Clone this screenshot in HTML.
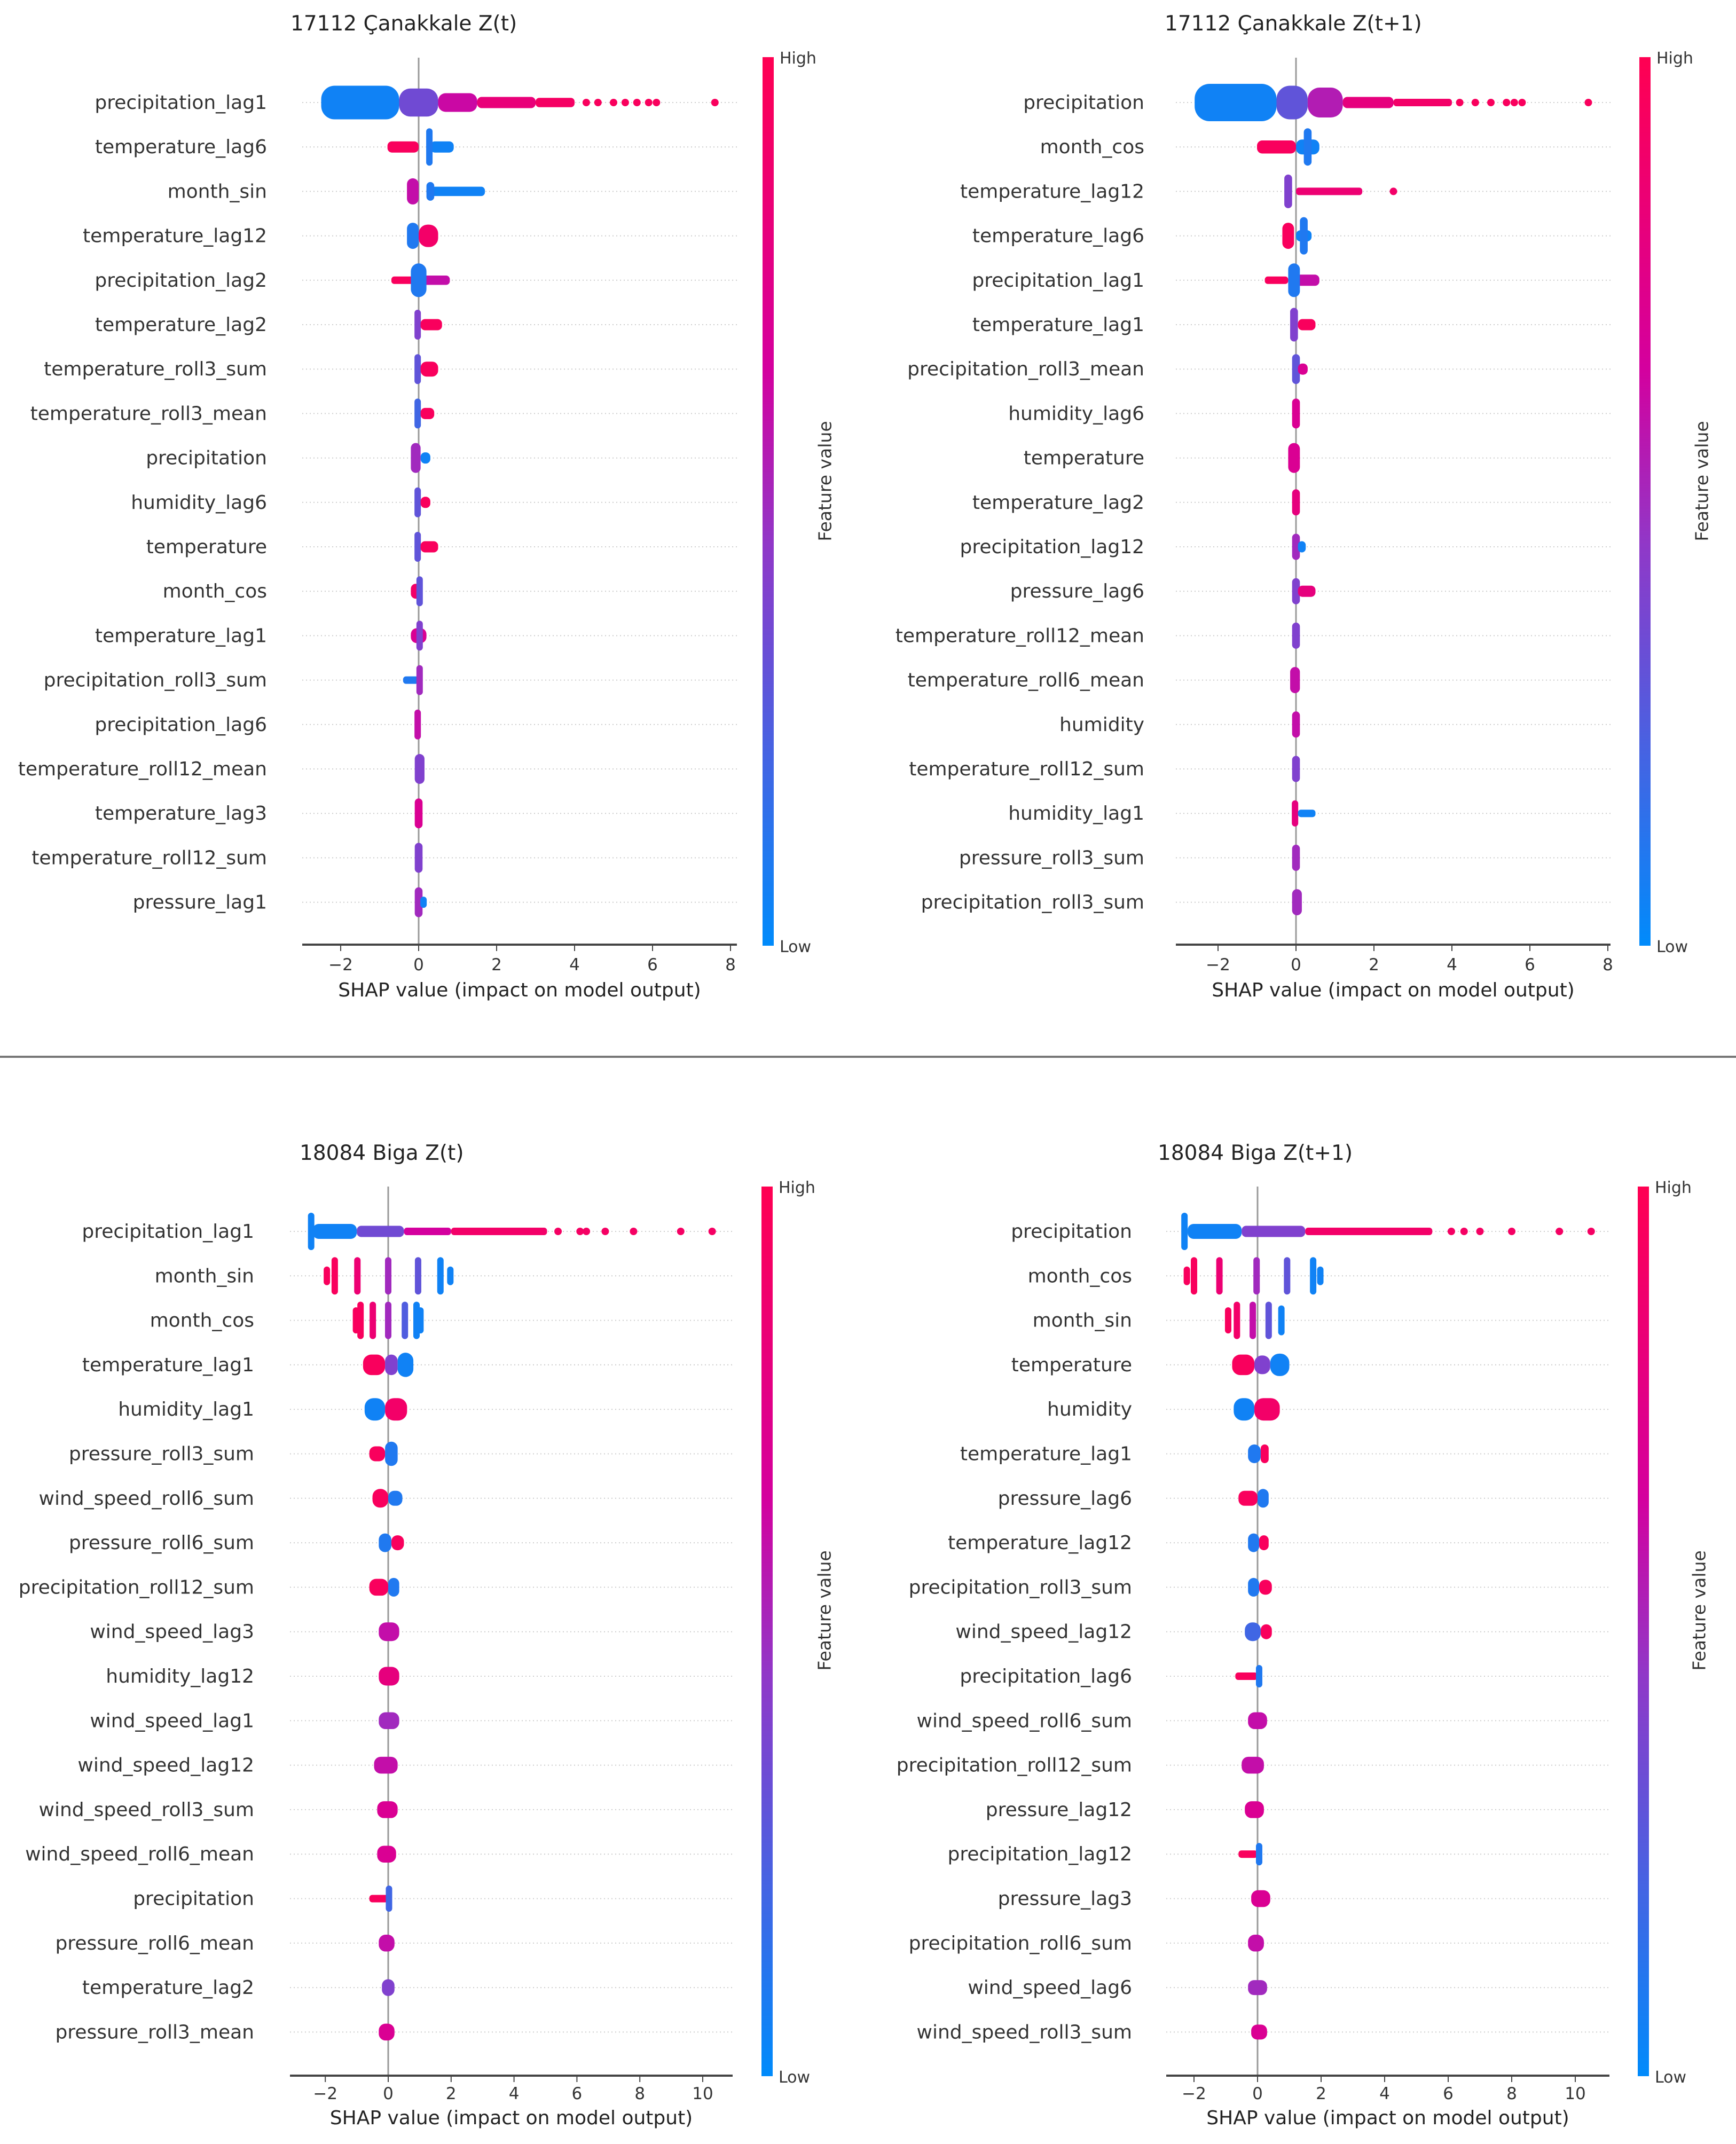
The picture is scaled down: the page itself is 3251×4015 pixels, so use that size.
<!DOCTYPE html>
<html><head><meta charset="utf-8">
<style>
html,body{margin:0;padding:0;background:#fff;}
svg{display:block;}
text{font-family:"DejaVu Sans","Liberation Sans",sans-serif;fill:#333;}
</style></head>
<body>
<svg id="chart" width="3251" height="4015" viewBox="0 0 3251 4015" xmlns="http://www.w3.org/2000/svg">
<defs>
<linearGradient id="cbgrad" x1="0" y1="1" x2="0" y2="0">
<stop offset="0" stop-color="#008bfb"/><stop offset="0.45" stop-color="#9038c8"/><stop offset="0.65" stop-color="#d4009e"/><stop offset="1" stop-color="#ff0052"/>
</linearGradient>
</defs>
<line x1="0" y1="1979" x2="3251" y2="1979" stroke="#777" stroke-width="4"/>
</svg>
<script>
// ---------- data ----------
// segments: [shapStart, shapEnd, relativeHeight, featureValueColor(0 low..1 high)]
// points: [shap, featureValueColor]
const titles = ["17112 Çanakkale Z(t)", "17112 Çanakkale Z(t+1)", "18084 Biga Z(t)", "18084 Biga Z(t+1)"];
const ticksTop = [-2, 0, 2, 4, 6, 8];
const ticksBottom = [-2, 0, 2, 4, 6, 8, 10];

const featuresTL = ["precipitation_lag1","temperature_lag6","month_sin","temperature_lag12","precipitation_lag2","temperature_lag2","temperature_roll3_sum","temperature_roll3_mean","precipitation","humidity_lag6","temperature","month_cos","temperature_lag1","precipitation_roll3_sum","precipitation_lag6","temperature_roll12_mean","temperature_lag3","temperature_roll12_sum","pressure_lag1"];
const segsTL = [
 [[-2.5,-0.5,0.9,0.05],[-0.5,0.5,0.75,0.35],[0.5,1.5,0.5,0.62],[1.5,3,0.3,0.82],[3,4,0.25,0.92]],
 [[-0.8,0,0.3,0.95],[0.3,0.9,0.3,0.05],[0.2,0.35,1.0,0.1]],
 [[-0.3,0,0.7,0.6],[0.2,1.7,0.25,0.05],[0.2,0.4,0.5,0.1]],
 [[-0.3,0,0.7,0.1],[0,0.5,0.6,0.9]],
 [[-0.7,-0.1,0.2,0.95],[0.1,0.8,0.25,0.6],[-0.2,0.2,0.9,0.1]],
 [[-0.1,0.05,0.8,0.4],[0.05,0.6,0.3,0.95]],
 [[-0.1,0.05,0.8,0.3],[0.05,0.5,0.4,0.95]],
 [[-0.1,0.05,0.8,0.2],[0.05,0.4,0.3,0.95]],
 [[-0.2,0.05,0.8,0.5],[0.05,0.3,0.3,0.05]],
 [[-0.1,0.05,0.8,0.3],[0.05,0.3,0.3,0.95]],
 [[-0.1,0.05,0.8,0.3],[0.05,0.5,0.3,0.95]],
 [[-0.2,0.05,0.4,0.9],[-0.05,0.1,0.8,0.3]],
 [[-0.2,0.2,0.4,0.7],[-0.05,0.1,0.8,0.4]],
 [[-0.4,0,0.2,0.1],[-0.05,0.1,0.8,0.5]],
 [[-0.1,0.05,0.8,0.6]],
 [[-0.1,0.15,0.8,0.4]],
 [[-0.1,0.1,0.8,0.7]],
 [[-0.1,0.1,0.8,0.4]],
 [[-0.1,0.1,0.8,0.5],[0.05,0.2,0.3,0.05]]
];
const ptsTL = [[[4.3,0.95],[4.6,0.95],[5.0,0.95],[5.3,0.95],[5.6,0.95],[5.9,0.95],[6.1,0.95],[7.6,0.95]]];

const featuresTR = ["precipitation","month_cos","temperature_lag12","temperature_lag6","precipitation_lag1","temperature_lag1","precipitation_roll3_mean","humidity_lag6","temperature","temperature_lag2","precipitation_lag12","pressure_lag6","temperature_roll12_mean","temperature_roll6_mean","humidity","temperature_roll12_sum","humidity_lag1","pressure_roll3_sum","precipitation_roll3_sum"];
const segsTR = [
 [[-2.6,-0.5,1.0,0.05],[-0.5,0.3,0.9,0.3],[0.3,1.2,0.8,0.55],[1.2,2.5,0.3,0.8],[2.5,4,0.2,0.9]],
 [[-1,0,0.35,0.95],[0,0.6,0.4,0.05],[0.2,0.4,1.0,0.1]],
 [[0,1.7,0.2,0.85],[-0.3,-0.1,0.9,0.4]],
 [[-0.35,-0.05,0.7,0.95],[0,0.4,0.3,0.05],[0.1,0.3,1.0,0.1]],
 [[-0.8,-0.2,0.15,0.95],[0,0.6,0.3,0.6],[-0.2,0.1,0.9,0.1]],
 [[-0.15,0.05,0.9,0.4],[0.05,0.5,0.3,0.95]],
 [[-0.1,0.1,0.8,0.3],[0.05,0.3,0.3,0.7]],
 [[-0.1,0.1,0.8,0.7]],
 [[-0.2,0.1,0.8,0.7]],
 [[-0.1,0.1,0.7,0.8]],
 [[-0.1,0.1,0.7,0.5],[0.05,0.25,0.3,0.05]],
 [[-0.1,0.1,0.7,0.4],[0.05,0.5,0.3,0.8]],
 [[-0.1,0.1,0.7,0.4]],
 [[-0.15,0.1,0.7,0.6]],
 [[-0.1,0.1,0.7,0.6]],
 [[-0.1,0.1,0.7,0.4]],
 [[-0.1,0.05,0.7,0.8],[0.05,0.5,0.2,0.05]],
 [[-0.1,0.1,0.7,0.5]],
 [[-0.1,0.15,0.7,0.5]]
];
const ptsTR = [[[4.2,0.95],[4.6,0.95],[5.0,0.95],[5.4,0.95],[5.6,0.95],[5.8,0.95],[7.5,0.95]],[],[[2.5,0.9]]];

const featuresBL = ["precipitation_lag1","month_sin","month_cos","temperature_lag1","humidity_lag1","pressure_roll3_sum","wind_speed_roll6_sum","pressure_roll6_sum","precipitation_roll12_sum","wind_speed_lag3","humidity_lag12","wind_speed_lag1","wind_speed_lag12","wind_speed_roll3_sum","wind_speed_roll6_mean","precipitation","pressure_roll6_mean","temperature_lag2","pressure_roll3_mean"];
const segsBL = [
 [[-2.5,-2.4,1.0,0.05],[-2.4,-1,0.4,0.05],[-1,0.5,0.3,0.35],[0.5,2,0.2,0.65],[2,5.05,0.15,0.9]],
 [[-2.0,-1.9,0.5,0.95],[-1.75,-1.65,1,0.95],[-1.03,-0.93,1,0.85],[-0.05,0.05,1,0.5],[0.9,1.0,1,0.3],[1.61,1.71,1,0.05],[1.9,2.05,0.5,0.05]],
 [[-1.1,-0.95,0.7,0.95],[-0.93,-0.83,1,0.95],[-0.54,-0.44,1,0.85],[-0.05,0.05,1,0.5],[0.48,0.58,1,0.25],[0.85,0.95,1,0.05],[0.95,1.1,0.7,0.05]],
 [[-0.8,-0.1,0.55,0.95],[-0.1,0.3,0.55,0.4],[0.3,0.8,0.65,0.05]],
 [[-0.75,-0.1,0.6,0.05],[-0.1,0.6,0.6,0.9]],
 [[-0.6,-0.1,0.4,0.95],[-0.1,0.3,0.65,0.1]],
 [[-0.5,0,0.5,0.95],[0,0.45,0.4,0.1]],
 [[-0.3,0.1,0.5,0.1],[0.1,0.5,0.4,0.95]],
 [[-0.6,0,0.45,0.95],[0,0.35,0.5,0.1]],
 [[-0.3,0.35,0.5,0.6]],
 [[-0.3,0.35,0.5,0.8]],
 [[-0.3,0.35,0.45,0.5]],
 [[-0.45,0.3,0.45,0.6]],
 [[-0.35,0.3,0.45,0.7]],
 [[-0.35,0.25,0.45,0.7]],
 [[-0.6,0,0.2,0.95],[-0.05,0.1,0.7,0.2]],
 [[-0.3,0.2,0.45,0.6]],
 [[-0.2,0.2,0.45,0.4]],
 [[-0.3,0.2,0.45,0.7]]
];
const ptsBL = [[[5.4,0.92],[6.1,0.92],[6.3,0.92],[6.9,0.92],[7.8,0.92],[9.3,0.92],[10.3,0.92]]];

const featuresBR = ["precipitation","month_cos","month_sin","temperature","humidity","temperature_lag1","pressure_lag6","temperature_lag12","precipitation_roll3_sum","wind_speed_lag12","precipitation_lag6","wind_speed_roll6_sum","precipitation_roll12_sum","pressure_lag12","precipitation_lag12","pressure_lag3","precipitation_roll6_sum","wind_speed_lag6","wind_speed_roll3_sum"];
const segsBR = [
 [[-2.4,-2.2,1.0,0.05],[-2.2,-0.5,0.4,0.05],[-0.5,1.5,0.3,0.4],[1.5,5.5,0.15,0.9]],
 [[-2.3,-2.15,0.5,0.95],[-2.05,-1.95,1,0.95],[-1.25,-1.15,1,0.85],[-0.08,0.02,1,0.5],[0.88,0.98,1,0.3],[1.7,1.8,1,0.05],[1.9,2.05,0.5,0.05]],
 [[-1.0,-0.85,0.7,0.95],[-0.7,-0.6,1,0.9],[-0.2,-0.1,1,0.6],[0.3,0.4,1,0.3],[0.65,0.85,0.8,0.05]],
 [[-0.8,-0.1,0.55,0.95],[-0.1,0.4,0.5,0.4],[0.4,1.0,0.6,0.05]],
 [[-0.75,-0.1,0.6,0.05],[-0.1,0.7,0.6,0.9]],
 [[-0.3,0.1,0.5,0.1],[0.1,0.35,0.5,0.95]],
 [[-0.6,0,0.4,0.95],[0,0.35,0.5,0.1]],
 [[-0.3,0.05,0.5,0.1],[0.05,0.35,0.4,0.95]],
 [[-0.3,0.05,0.5,0.1],[0.05,0.45,0.4,0.95]],
 [[-0.4,0.1,0.5,0.2],[0.1,0.45,0.4,0.95]],
 [[-0.7,0,0.2,0.95],[-0.05,0.15,0.6,0.1]],
 [[-0.3,0.3,0.45,0.6]],
 [[-0.5,0.2,0.45,0.6]],
 [[-0.4,0.2,0.45,0.7]],
 [[-0.6,0,0.2,0.95],[-0.05,0.15,0.6,0.1]],
 [[-0.2,0.4,0.45,0.7]],
 [[-0.3,0.2,0.45,0.6]],
 [[-0.3,0.3,0.4,0.5]],
 [[-0.2,0.3,0.4,0.7]]
];
const ptsBR = [[[6.1,0.92],[6.5,0.92],[7.0,0.92],[8.0,0.92],[9.5,0.92],[10.5,0.92]]];

// ---------- layout ----------
const panels = [
 {id:"tl",title:titles[0],feat:featuresTL,segs:segsTL,pts:ptsTL,ticks:ticksTop,zero:784,unit:73,axL:566,axR:1380,row0:192,step:83.2,top:108,axY:1769,lblR:500,cbX:1428,cbTop:107,cbBot:1771,titleX:544,titleY:43,fvX:1545,fvY:901,tickY:1806,xlY:1853},
 {id:"tr",title:titles[1],feat:featuresTR,segs:segsTR,pts:ptsTR,ticks:ticksTop,zero:2427,unit:73,axL:2202,axR:3016,row0:192,step:83.2,top:108,axY:1769,lblR:2143,cbX:3070,cbTop:107,cbBot:1771,titleX:2181,titleY:43,fvX:3187,fvY:901,tickY:1806,xlY:1853},
 {id:"bl",title:titles[2],feat:featuresBL,segs:segsBL,pts:ptsBL,ticks:ticksBottom,zero:727,unit:58.9,axL:543,axR:1372,row0:2306,step:83.3,top:2222,axY:3887,lblR:476,cbX:1426,cbTop:2222,cbBot:3888,titleX:561,titleY:2158,fvX:1544,fvY:3016,tickY:3920,xlY:3965},
 {id:"br",title:titles[3],feat:featuresBR,segs:segsBR,pts:ptsBR,ticks:ticksBottom,zero:2355,unit:59.5,axL:2184,axR:3014,row0:2306,step:83.3,top:2222,axY:3887,lblR:2120,cbX:3067,cbTop:2222,cbBot:3888,titleX:2168,titleY:2158,fvX:3182,fvY:3016,tickY:3920,xlY:3965}
];

const NS="http://www.w3.org/2000/svg";
const svg=document.getElementById('chart');
function mk(tag,attrs,parent,txt){const e=document.createElementNS(NS,tag);for(const k in attrs)e.setAttribute(k,attrs[k]);if(txt!==undefined)e.textContent=txt;(parent||svg).appendChild(e);return e;}
function lerp(a,b,t){return a+(b-a)*t;}
const stops=[[0,[0,139,251]],[0.45,[144,56,200]],[0.65,[212,0,158]],[1,[255,0,82]]];
function cmap(v){for(let i=1;i<stops.length;i++){if(v<=stops[i][0]){const a=stops[i-1],b=stops[i];const t=(v-a[0])/(b[0]-a[0]);return 'rgb('+a[1].map((c,j)=>Math.round(lerp(c,b[1][j],t))).join(',')+')';}}return 'rgb(255,0,82)';}

panels.forEach(p=>{
 const xs=v=>p.zero+v*p.unit;
 const ys=i=>p.row0+i*p.step;
 const g=mk('g',{});
 
 
 const t=mk('text',{x:p.titleX,y:p.titleY+14,'font-size':39,style:'fill:#222'},g,p.title);
 
 
 p.feat.forEach((f,i)=>{
  const gl=mk('line',{x1:p.axL,x2:p.axR,y1:ys(i),y2:ys(i),stroke:'#ccc','stroke-width':2,'stroke-dasharray':'2 5'},g);
  
  
  const l=mk('text',{x:p.lblR,y:ys(i)+12,'text-anchor':'end','font-size':36},g,f);
  
  
 });
 const zl=mk('line',{x1:xs(0),x2:xs(0),y1:p.top,y2:p.axY,stroke:'#999','stroke-width':3},g);
 
 
 p.segs.forEach((row,i)=>{
  row.forEach(s=>{
   const x0=xs(s[0]),x1=xs(s[1]);const h=Math.max(14,s[2]*70);
   const w=Math.max(12,x1-x0);
   const r=mk('rect',{x:x0-(w-(x1-x0))/2,y:ys(i)-h/2,width:w,height:h,rx:Math.min(h/2.5,w/2),fill:cmap(s[3])},g);
   
   
  });
 });
 p.pts.forEach((row,i)=>{
  row.forEach(pt=>{
   const c=mk('circle',{cx:xs(pt[0]),cy:ys(i),r:7,fill:cmap(pt[1])},g);
   
   
  });
 });
 const ax=mk('line',{x1:p.axL,x2:p.axR,y1:p.axY,y2:p.axY,stroke:'#444','stroke-width':4},g);
 
 
 p.ticks.forEach(v=>{
  const tk=mk('line',{x1:xs(v),x2:xs(v),y1:p.axY,y2:p.axY+12,stroke:'#444','stroke-width':2},g);
  
  
  const tl=mk('text',{x:xs(v),y:p.tickY+11,'text-anchor':'middle','font-size':31},g,v<0?'\u2212'+Math.abs(v):String(v));
  
  
 });
 const xl=mk('text',{x:(p.axL+p.axR)/2,y:p.xlY+13,'text-anchor':'middle','font-size':36,style:'fill:#222'},g,'SHAP value (impact on model output)');
 
 
 const cb=mk('rect',{x:p.cbX,y:p.cbTop,width:21,height:p.cbBot-p.cbTop,fill:'url(#cbgrad)'},g);
 
 
 const hi=mk('text',{x:p.cbX+32,y:p.cbTop+12,'font-size':30},g,'High');
 
 
 const lo=mk('text',{x:p.cbX+32,y:p.cbBot+12,'font-size':30},g,'Low');
 
 
 const cy=p.fvY;
 const fv=mk('text',{x:p.fvX,y:cy,'text-anchor':'middle','font-size':33,transform:'rotate(-90 '+p.fvX+' '+cy+')',dy:'0.35em'},g,'Feature value');
 
 
});
</script>
</body></html>
